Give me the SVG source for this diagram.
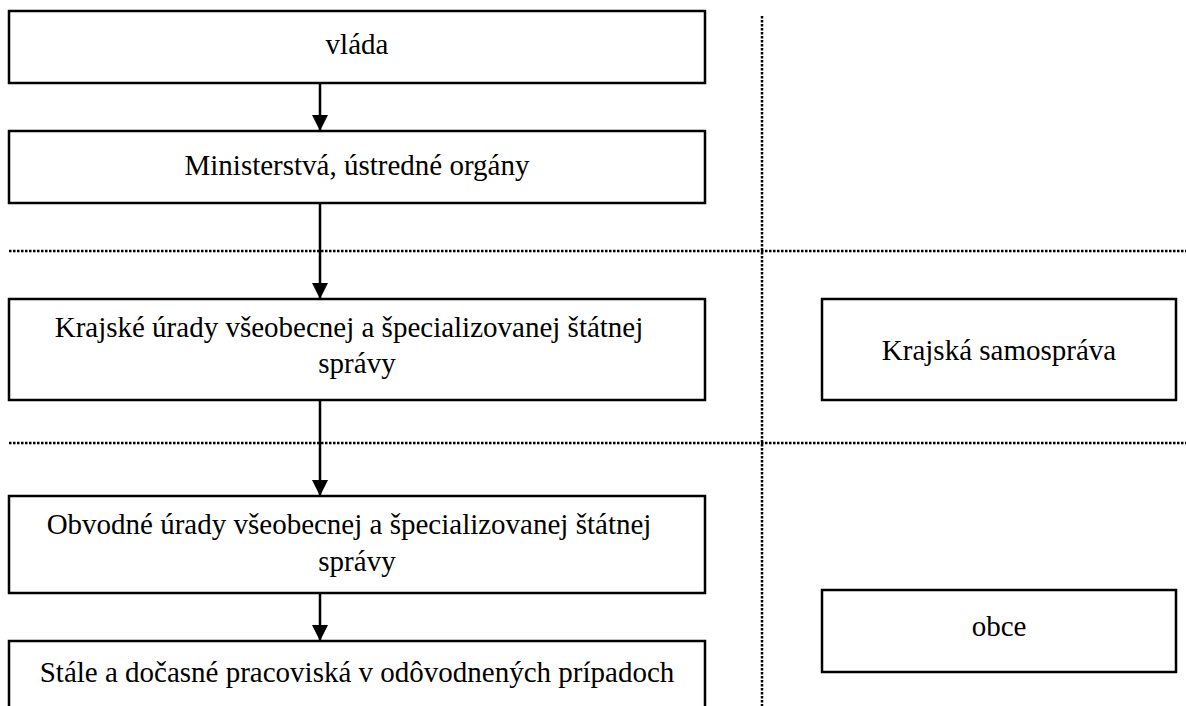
<svg xmlns="http://www.w3.org/2000/svg" width="1186" height="706" viewBox="0 0 1186 706">
<defs>
<style>
.box{fill:#fff;stroke:#000;stroke-width:2.5}
.t{font-family:"Liberation Serif","Times New Roman",serif;font-size:29px;fill:#000;text-anchor:middle}
.dot{stroke:#000;stroke-width:2.5;stroke-dasharray:2.5 1.5;fill:none}
.ln{stroke:#000;stroke-width:2.5;fill:none}
</style>
<marker id="ah" markerWidth="16" markerHeight="16" viewBox="0 0 16 16" refX="16" refY="8" orient="auto" markerUnits="userSpaceOnUse">
<path d="M0,0 L16,8 L0,16 Z" fill="#000"/>
</marker>
</defs>
<rect width="1186" height="706" fill="#fff"/>
<g id="dividers">
<line class="dot" x1="762" y1="16" x2="762" y2="706"/>
<line class="dot" x1="9" y1="251" x2="1186" y2="251"/>
<line class="dot" x1="9" y1="443" x2="1186" y2="443"/>
</g>
<g id="connectors">
<line class="ln" x1="320" y1="83" x2="320" y2="131" marker-end="url(#ah)"/>
<line class="ln" x1="320" y1="203" x2="320" y2="299" marker-end="url(#ah)"/>
<line class="ln" x1="320" y1="400" x2="320" y2="496" marker-end="url(#ah)"/>
<line class="ln" x1="320" y1="593" x2="320" y2="641" marker-end="url(#ah)"/>
</g>
<g id="vlada">
<rect class="box" x="9" y="11" width="696" height="72"/>
<text class="t" x="357" y="54">vláda</text>
</g>
<g id="ministerstva">
<rect class="box" x="9" y="131" width="696" height="72"/>
<text class="t" x="357" y="175">Ministerstvá, ústredné orgány</text>
</g>
<g id="krajske-urady">
<rect class="box" x="9" y="299" width="696" height="101"/>
<text class="t" x="349" y="337">Krajské úrady všeobecnej a špecializovanej štátnej</text>
<text class="t" x="357" y="373">správy</text>
</g>
<g id="obvodne-urady">
<rect class="box" x="9" y="496" width="696" height="97"/>
<text class="t" x="349" y="534">Obvodné úrady všeobecnej a špecializovanej štátnej</text>
<text class="t" x="357" y="571">správy</text>
</g>
<g id="pracoviska">
<rect class="box" x="9" y="641" width="696" height="80"/>
<text class="t" x="357" y="682">Stále a dočasné pracoviská v odôvodnených prípadoch</text>
</g>
<g id="krajska-samosprava">
<rect class="box" x="822" y="299" width="354" height="101"/>
<text class="t" x="999" y="360">Krajská samospráva</text>
</g>
<g id="obce">
<rect class="box" x="822" y="590" width="354" height="82"/>
<text class="t" x="999" y="636">obce</text>
</g>
</svg>
